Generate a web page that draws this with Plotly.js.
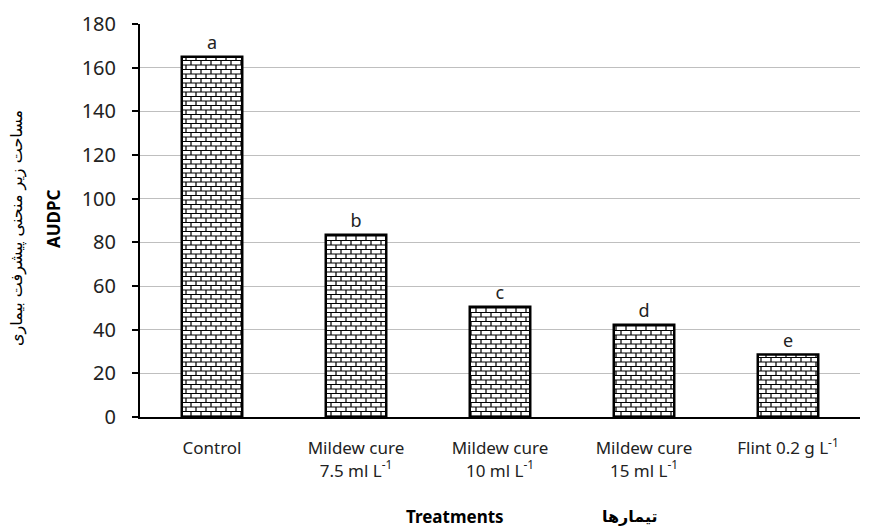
<!DOCTYPE html>
<html><head><meta charset="utf-8">
<script src="https://cdn.plot.ly/plotly-3.0.1.min.js"></script>
<style>body{margin:0;background:#fff}#c{width:876px;height:529px}</style>
</head><body><div id="c"></div>
<script>
const categories = ["Control", "Mildew cure<br>7.5 ml L<sup>-1</sup>", "Mildew cure<br>10 ml L<sup>-1</sup>", "Mildew cure<br>15 ml L<sup>-1</sup>", "Flint 0.2 g L<sup>-1</sup>"];
const audpc = [165, 83.5, 50.5, 42.3, 28.6];
const letters = ["a", "b", "c", "d", "e"];
const yTicks = [0, 20, 40, 60, 80, 100, 120, 140, 160, 180];

const font = "Noto Sans, DejaVu Sans, sans-serif";
const data = [{
  type: "bar", x: categories, y: audpc, text: letters, textposition: "outside",
  textfont: {size: 18, color: "#222", family: font}, cliponaxis: false,
  marker: {color: "#fff", line: {color: "#000", width: 2.5},
    pattern: {shape: "+", fgcolor: "#000", bgcolor: "#fff", size: 8, solidity: 0.2}},
  hoverinfo: "none"
}];
const layout = {
  width: 876, height: 529, margin: {l: 140, r: 16, t: 24, b: 112},
  paper_bgcolor: "#fff", plot_bgcolor: "#fff", showlegend: false, bargap: 0.58,
  font: {family: font, color: "#222"},
  xaxis: {showline: true, linecolor: "#000", linewidth: 2, ticks: "", tickfont: {size: 17, color: "#222"}, ticklabelstandoff: 15, fixedrange: true},
  yaxis: {range: [0, 180], tickvals: yTicks, showline: true, linecolor: "#000", linewidth: 2, ticks: "outside", ticklen: 6, tickwidth: 2, tickcolor: "#000",
    ticklabelstandoff: 12, gridcolor: "#bfbfbf", gridwidth: 1, tickfont: {size: 20, color: "#222"}, zeroline: false, fixedrange: true},
  annotations: [
    {text: "<b>Treatments</b>", xref: "paper", yref: "paper", x: 0.438, y: -0.252, xanchor: "center", yanchor: "middle", showarrow: false, font: {size: 17, color: "#000"}},
    {text: "<b>تیمارها</b>", xref: "paper", yref: "paper", x: 0.68, y: -0.252, xanchor: "center", yanchor: "middle", showarrow: false, font: {size: 16, color: "#000", family: "DejaVu Sans, sans-serif"}},
    {text: "مساحت زیر منحنی پیشرفت بیماری", xref: "paper", yref: "paper", x: -0.17, y: 0.48, xanchor: "center", yanchor: "middle", textangle: -90, showarrow: false, font: {size: 16, color: "#000", family: "DejaVu Sans, sans-serif"}},
    {text: "<b>AUDPC</b>", xref: "paper", yref: "paper", x: -0.121, y: 0.506, xanchor: "center", yanchor: "middle", textangle: -90, showarrow: false, font: {size: 17, color: "#000"}}
  ]
};
Plotly.newPlot("c", data, layout, {displayModeBar: false, staticPlot: true}).then(function(gd){
  const NS = "http://www.w3.org/2000/svg";
  gd.querySelectorAll("pattern").forEach(function(p){
    p.setAttribute("width", "10"); p.setAttribute("height", "9");
    while (p.firstChild) p.removeChild(p.firstChild);
    const r = document.createElementNS(NS, "rect");
    r.setAttribute("width", "10"); r.setAttribute("height", "9"); r.setAttribute("fill", "#fff");
    p.appendChild(r);
    const path = document.createElementNS(NS, "path");
    path.setAttribute("d", "M0,0.5H10M0,5H10M1,0.5V5M6,5V9");
    path.setAttribute("stroke", "#000"); path.setAttribute("stroke-width", "1.2"); path.setAttribute("fill", "none");
    p.appendChild(path);
  });
});
</script></body></html>
